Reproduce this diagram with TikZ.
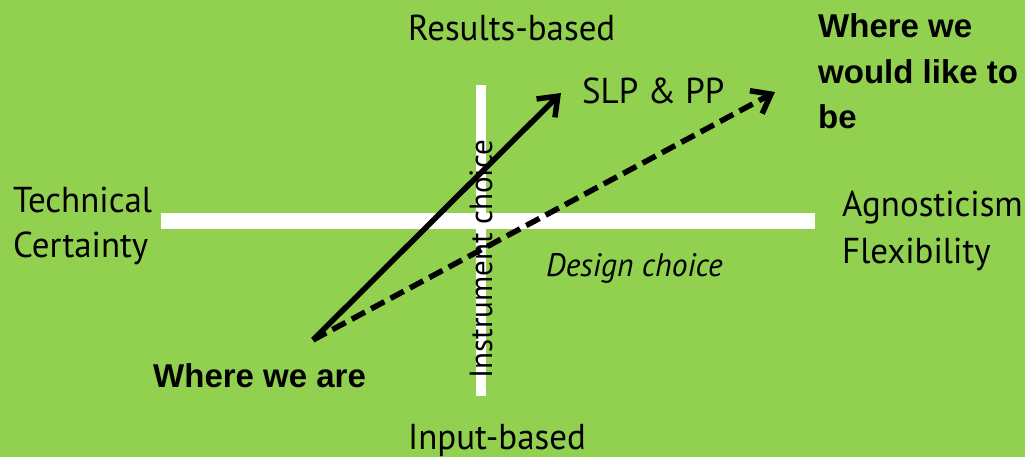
\documentclass[tikz,border=0pt]{standalone}
\usepackage{fontspec}
\setmainfont{PT Sans}[FakeStretch=0.97]
\newfontfamily\boldface{Liberation Sans}[BoldFont=* Bold]
\usetikzlibrary{arrows.meta}
\definecolor{bggreen}{RGB}{146,208,80}
\tikzset{
  lbl/.style={anchor=base west, inner sep=0pt, font=\fontsize{36}{44}\selectfont},
  blbl/.style={anchor=base west, inner sep=0pt, font=\boldface\bfseries\fontsize{33}{45}\selectfont},
  bar/.style={draw=white, line width=#1},
  arr/.style={line width=5.5pt, -{Straight Barb[length=17pt,width=26pt]}},
  darr/.style={arr, dash pattern=on 15pt off 7pt}
}
\begin{document}
\begin{tikzpicture}[x=1pt,y=-1pt]
\fill[bggreen] (0,0) rectangle (1025,457);
\useasboundingbox (0,0) rectangle (1025,457);
% axes
\coordinate (vtop) at (481,85);
\coordinate (vbot) at (481,396);
\coordinate (hl) at (161,221);
\coordinate (hr) at (815,221);
\draw[bar=10pt] (vtop) -- (vbot);
\draw[bar=16pt] (hl) -- (hr);
% labels
\node[lbl] (res) at (408,41) {Results-based};
\node[lbl] (inp) at (408,449) {Input-based};
\node[lbl] (tech) at (13,213) {Technical};
\node[lbl] (cert) at (13,257) {Certainty};
\node[lbl] (agn) at (842,217) {Agnosticism};
\node[lbl] (flex) at (842,263) {Flexibility};
\node[lbl] (slp) at (582,104) {SLP \& PP};
\node[lbl, font=\itshape\fontsize{32.5}{36}\selectfont] (des) at (546,276) {Design choice};
\node[anchor=base, inner sep=0pt, rotate=90, font=\fontsize{32}{36}\selectfont] (instr) at (492,259) {Instrument choice};
\node[blbl] (w1) at (818,38) {Where we};
\node[blbl] (w2) at (818,84) {would like to};
\node[blbl] (w3) at (818,129) {be};
\node[blbl] (here) at (153,387) {Where we are};
% arrows
\coordinate (start) at (313,340);
\coordinate (slptip) at (561,93);
\coordinate (goaltip) at (775,92);
\draw[darr] (start) -- (goaltip);
\draw[arr] (start) -- (slptip);
\end{tikzpicture}
\end{document}
